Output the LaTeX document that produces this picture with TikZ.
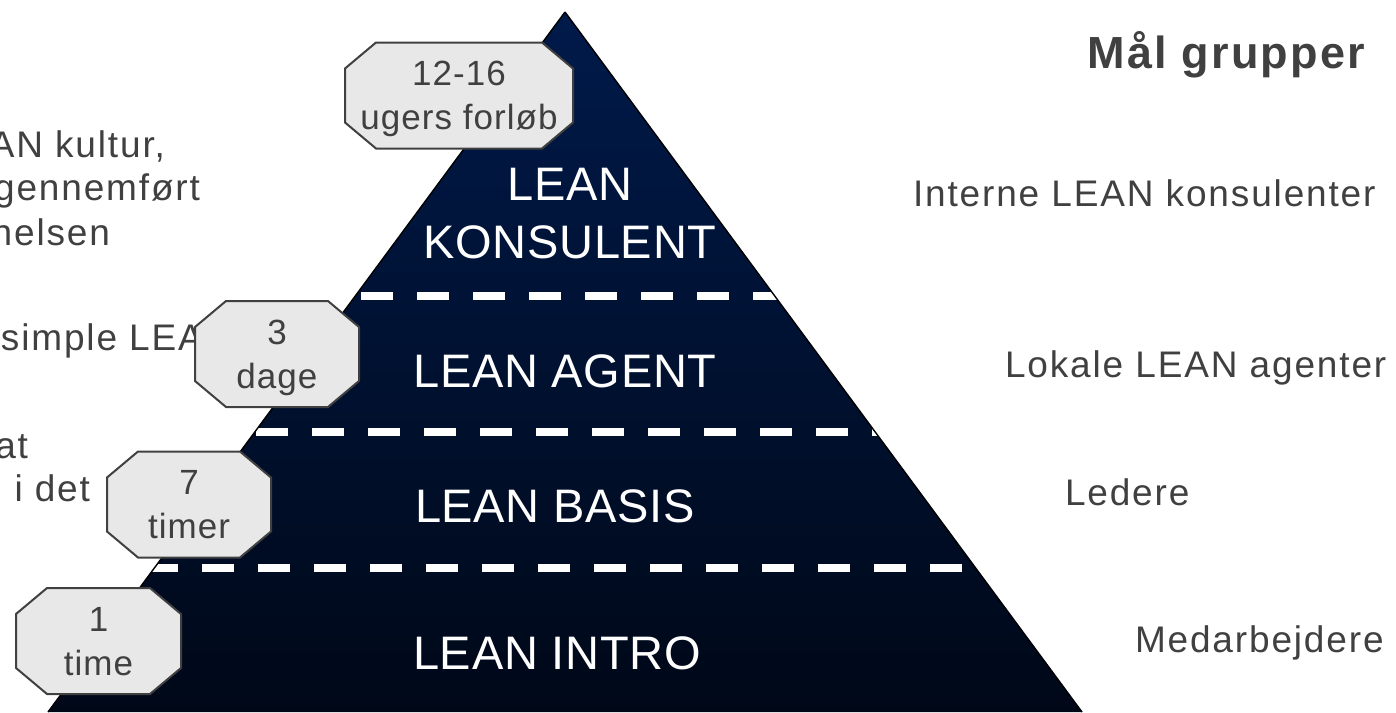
\documentclass[tikz,border=0pt]{standalone}
\usepackage{fontspec}
\setmainfont{Liberation Sans}
\newfontfamily\levelfont[LetterSpace=1.5]{Liberation Sans}
\newfontfamily\notefont[LetterSpace=5]{Liberation Sans}
\newfontfamily\headfont[LetterSpace=5]{Liberation Sans}
\newfontfamily\tagfont[LetterSpace=3]{Liberation Sans}
\usetikzlibrary{calc}

\definecolor{navytop}{HTML}{001A4A}
\definecolor{navybot}{HTML}{000818}
\definecolor{inkgrey}{HTML}{404040}
\definecolor{tagfill}{HTML}{E8E8E8}

\pgfdeclarelayer{back}
\pgfdeclarelayer{frame}
\pgfsetlayers{back,frame,main}

\tikzset{
  level/.style={font=\levelfont\fontsize{23.5pt}{29pt}\selectfont, text=white,
    align=center, inner sep=0pt},
  note/.style={font=\notefont\fontsize{18.5pt}{22pt}\selectfont, text=inkgrey,
    inner sep=0pt, outer sep=0pt},
  heading/.style={font=\headfont\bfseries\fontsize{22.5pt}{26pt}\selectfont,
    text=inkgrey, inner sep=0pt},
  tag/.style={font=\tagfont\fontsize{17.5pt}{22pt}\selectfont, text=inkgrey,
    align=center, inner sep=0pt, outer sep=0pt, minimum height=53pt,
    text depth=0pt},
  tagframe/.style={fill=tagfill, draw=inkgrey, line width=1pt, line join=miter},
  tier/.style={draw=white, line width=4pt, dash pattern=on 16pt off 12pt},
  pyramid/.style={top color=navytop, bottom color=navybot},
}

% octagonal frame around a tag node: corners cut 15.5pt across, 13pt down
\newcommand\tagoutline[1]{%
  \filldraw[tagframe]
    ([xshift=15.5pt]#1.north west) -- ([xshift=-15.5pt]#1.north east)
    -- ([yshift=-13pt]#1.north east) -- ([yshift=13pt]#1.south east)
    -- ([xshift=-15.5pt]#1.south east) -- ([xshift=15.5pt]#1.south west)
    -- ([yshift=13pt]#1.south west) -- ([yshift=-13pt]#1.north west)
    -- cycle;}

\begin{document}
\begin{tikzpicture}[x=0.5pt, y=-0.5pt]
\useasboundingbox (0,0) rectangle (1396,712);

\begin{pgfonlayer}{back}
  % notes on the left, partly running off the page
  \node[note, anchor=base east] (culture) at (165,157) {AN kultur,};
  \node[note, anchor=base east] (done) at (200,200) {gennemført};
  \node[note, anchor=base east] (educ) at (110,245) {nelsen};
  \node[note, anchor=base west] (simple) at (1,350) {simple LEA};
  \node[note, anchor=base east] (at) at (28,458) {at};
  \node[note, anchor=base east] (idet) at (90,501) {i det};

  % the pyramid
  \shade[pyramid] (565,12) -- (48,712) -- (1082,712) -- cycle;
  \begin{scope}
    \clip (565,12) -- (48,712) -- (1082,712) -- cycle;
    \draw[tier] (305,296) -- (900,296);
    \draw[tier] (256,432) -- (1000,432);
    \draw[tier] (146,567.5) -- (1100,567.5);
  \end{scope}
  \draw[black, line width=0.7pt] (565,12) -- (1082,712);
  \draw[black, line width=0.7pt] (565,12) -- (48,712);
\end{pgfonlayer}

% tier names
\node[level] (konsulent) at (570,213.5) {LEAN\\KONSULENT};
\node[level] (agent) at (565,371) {LEAN AGENT};
\node[level] (basis) at (555,506) {LEAN BASIS};
\node[level] (intro) at (557,653) {LEAN INTRO};

% course length tags
\node[tag, minimum width=114pt] (weeks) at (459,95.5) {12-16\\ugers forløb};
\node[tag, minimum width=82pt] (days) at (277,354) {3\\dage};
\node[tag, minimum width=82pt] (hours) at (189,504.5) {7\\timer};
\node[tag, minimum width=82.5pt] (hour) at (98.5,641) {1\\time};
\begin{pgfonlayer}{frame}
  \tagoutline{weeks}
  \tagoutline{days}
  \tagoutline{hours}
  \tagoutline{hour}
\end{pgfonlayer}

% target groups on the right
\node[heading, anchor=base west] (groups) at (1087,68) {Mål grupper};
\node[note, anchor=base west] (internal) at (913,206) {Interne LEAN konsulenter};
\node[note, anchor=base west] (local) at (1005,377) {Lokale LEAN agenter};
\node[note, anchor=base west] (leaders) at (1065,505) {Ledere};
\node[note, anchor=base west] (staff) at (1135,652) {Medarbejdere};
\end{tikzpicture}
\end{document}
